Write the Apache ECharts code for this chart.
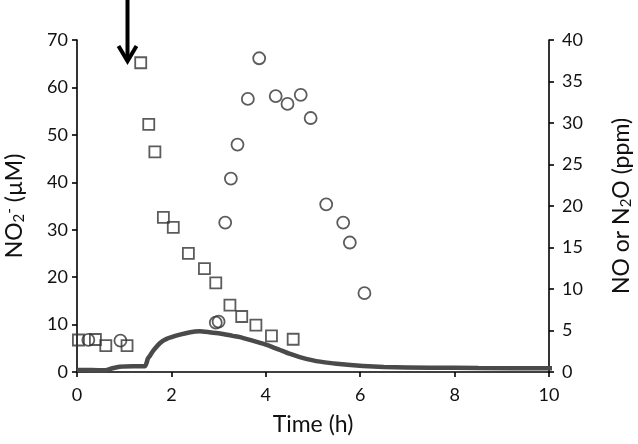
<!DOCTYPE html>
<html>
<head>
<meta charset="utf-8">
<script src="https://cdn.jsdelivr.net/npm/echarts@6/dist/echarts.min.js"></script>
<style>html,body{margin:0;padding:0;background:#fff}#c{width:638px;height:444px}</style>
</head>
<body>
<div id="c"></div>
<script>
// NO2- (µM), left axis — squares
const squareTime = [0.03,0.39,0.61,1.06,1.35,1.52,1.65,1.83,2.04,2.36,2.70,2.94,3.24,3.49,3.79,4.12,4.58];
const squareNO2 = [6.75,6.85,5.55,5.55,65.2,52.2,46.4,32.6,30.5,25.0,21.8,18.8,14.1,11.7,9.9,7.6,6.9];
// N2O (ppm), right axis — circles
const circleTime = [0.24,0.92,2.94,3.0,3.14,3.26,3.40,3.62,3.86,4.21,4.46,4.74,4.95,5.28,5.64,5.78,6.09];
const circleN2O = [3.86,3.77,5.94,6.06,18.0,23.3,27.4,32.9,37.8,33.25,32.3,33.4,30.6,20.2,18.0,15.6,9.5];
// NO (ppm), right axis — continuous trace
const lineTime = [0,0.3,0.6,0.75,0.9,1.2,1.44,1.5,1.55,1.62,1.76,1.9,2.18,2.4,2.6,2.8,3.03,3.3,3.45,3.7,3.88,4.1,4.3,4.5,4.72,5.0,5.15,5.5,6.06,6.5,7.48,8.5,9.95,10.3];
const lineNO = [0.25,0.25,0.2,0.45,0.64,0.7,0.7,1.6,2.0,2.6,3.5,4.0,4.5,4.8,4.9,4.8,4.65,4.35,4.2,3.8,3.5,3.1,2.65,2.2,1.8,1.4,1.25,1.0,0.72,0.6,0.52,0.48,0.45,0.45];
// Axis ticks
const xTicks = [0,10,2];
const leftTicks = [0,70,10];
const rightTicks = [0,40,5];
const arrowTime = 1.07;

const FONT = 'Lato';
const chart = echarts.init(document.getElementById('c'), null, {renderer:'canvas'});
const axisCommon = {
  axisLine:{show:true, onZero:false, lineStyle:{color:'#000', width:1.6}},
  axisTick:{show:true, inside:false, length:5, lineStyle:{color:'#000', width:1.6}},
  splitLine:{show:false},
  axisLabel:{color:'#111', fontFamily:FONT, fontSize:18},
  nameTextStyle:{color:'#111', fontFamily:FONT, fontSize:23}
};
const hollow = {color:'rgba(255,255,255,0)', borderColor:'#333', borderWidth:1.8};

chart.setOption({
  animation:false,
  grid:{left:77, right:89, top:40, bottom:72, containLabel:false, outerBoundsMode:'none'},
  xAxis:Object.assign({}, axisCommon, {
    type:'value', min:xTicks[0], max:xTicks[1], interval:xTicks[2],
    name:'Time (h)', nameLocation:'middle', nameGap:41,
    axisLabel:Object.assign({}, axisCommon.axisLabel, {margin:14})
  }),
  yAxis:[
    Object.assign({}, axisCommon, {
      type:'value', position:'left', min:leftTicks[0], max:leftTicks[1], interval:leftTicks[2],
      name:'NO{sub|2}{sup|-} (µM)', nameLocation:'middle', nameGap:50, nameRotate:90,
      nameTextStyle:{color:'#111', fontFamily:FONT, fontSize:23,
        rich:{sub:{fontSize:15, fontFamily:FONT, color:'#111', verticalAlign:'bottom', padding:[10,0,0,0]},
              sup:{fontSize:15, fontFamily:FONT, color:'#111', verticalAlign:'top', padding:[0,0,10,0]}}},
      axisLabel:Object.assign({}, axisCommon.axisLabel, {margin:9})
    }),
    Object.assign({}, axisCommon, {
      type:'value', position:'right', min:rightTicks[0], max:rightTicks[1], interval:rightTicks[2],
      name:'NO or N{sub|2}O (ppm)', nameLocation:'middle', nameGap:60, nameRotate:90,
      nameTextStyle:{color:'#111', fontFamily:FONT, fontSize:23,
        rich:{sub:{fontSize:15, fontFamily:FONT, color:'#111', verticalAlign:'bottom', padding:[10,0,0,0]}}},
      axisLabel:Object.assign({}, axisCommon.axisLabel, {margin:13})
    })
  ],
  series:[
    {type:'line', yAxisIndex:1, data:lineTime.map((t,i)=>[t,lineNO[i]]), showSymbol:false, clip:false,
     smooth:0.2, lineStyle:{color:'#4a4a4a', width:4.5}, z:1},
    {type:'scatter', yAxisIndex:0, symbol:'rect', symbolSize:11, data:squareTime.map((t,i)=>[t,squareNO2[i]]),
     itemStyle:hollow, z:3},
    {type:'scatter', yAxisIndex:1, symbol:'circle', symbolSize:12, data:circleTime.map((t,i)=>[t,circleN2O[i]]),
     itemStyle:hollow, z:3}
  ]
});

const ax = chart.convertToPixel({xAxisIndex:0}, arrowTime);
chart.setOption({
  graphic:[
    {type:'line', shape:{x1:ax, y1:0, x2:ax, y2:58}, style:{stroke:'#000', lineWidth:4}},
    {type:'polyline', shape:{points:[[ax-9,46],[ax,61],[ax+9,46]]}, style:{stroke:'#000', lineWidth:4, fill:null, lineJoin:'miter'}}
  ]
});
</script>
</body>
</html>
